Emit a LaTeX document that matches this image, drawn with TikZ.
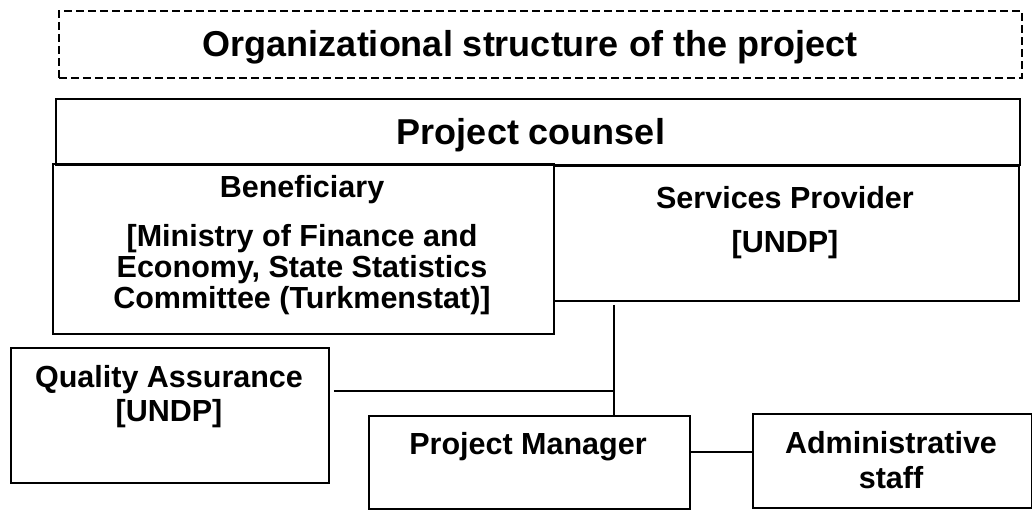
\documentclass[tikz,border=0pt]{standalone}
\usepackage{fontspec}
\setmainfont{Liberation Sans}
\usetikzlibrary{positioning}

\begin{document}
\begin{tikzpicture}[x=1pt,y=-1pt,line width=1.8pt,
	box/.style={draw,inner sep=0pt,anchor=north west},
	head/.style={box,dash pattern=on 8pt off 4pt,line width=1.7pt},
	txt/.style={font=\bfseries\fontsize{30.5}{32}\selectfont,inner sep=0pt,anchor=base},
	big/.style={txt,font=\bfseries\fontsize{36}{38}\selectfont}]

	\useasboundingbox (0,0) rectangle (1032,509);

	% The boxes
	\node [head,minimum width=963pt,minimum height=67pt] at (58,10) (title) {};
	\node [box,minimum width=964pt,minimum height=66pt] at (55,98) (counsel) {};
	\node [box,minimum width=501pt,minimum height=170pt] at (52,163) (ben) {};
	\node [box,minimum width=465pt,minimum height=135pt] at (553,165) (prov) {};
	\node [box,minimum width=318pt,minimum height=135pt] at (10,347) (qa) {};
	\node [box,minimum width=321pt,minimum height=93pt] at (368,415) (pm) {};
	\node [box,minimum width=279pt,minimum height=94pt] at (752,413) (adm) {};

	% The texts
	\node [big] at (530,56) (t-title) {Organizational structure of the project};
	\node [big] at (531,144) (t-counsel) {Project counsel};

	\node [txt] at (302,197) (t-ben1) {Beneficiary};
	\node [txt] at (302,246) (t-ben2) {[Ministry of Finance and};
	\node [txt] at (302,277) (t-ben3) {Economy, State Statistics};
	\node [txt] at (302,308) (t-ben4) {Committee (Turkmenstat)]};

	\node [txt] at (785,208) (t-prov1) {Services Provider};
	\node [txt] at (785,252) (t-prov2) {[UNDP]};

	\node [txt] at (169,387) (t-qa1) {Quality Assurance};
	\node [txt] at (169,421) (t-qa2) {[UNDP]};

	\node [txt] at (528,454) (t-pm) {Project Manager};

	\node [txt] at (891,453) (t-adm1) {Administrative};
	\node [txt] at (891,488) (t-adm2) {staff};

	% Connectors
	\coordinate (j) at (614,391);
	\coordinate (k) at (720,452);

	\draw [shorten <=3pt] (prov.south -| j) -- (pm.north -| j);
	\draw [shorten <=4pt] (qa.east |- j) -- (j);
	\draw (pm.east |- k) -- (adm.west |- k);

\end{tikzpicture}
\end{document}
